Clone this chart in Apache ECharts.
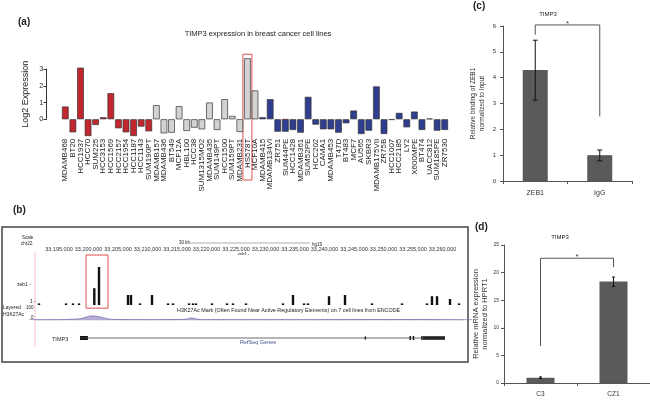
<!DOCTYPE html>
<html><head><meta charset="utf-8">
<script src="https://cdn.jsdelivr.net/npm/echarts@6/dist/echarts.min.js"></script>
<style>html,body{margin:0;padding:0;background:#fff}#c{width:650px;height:404px}</style>
</head><body><div id="c"></div>
<script>
// ---------- Panel (a) data ----------
const basalALines = ['MDAMB468','BT20','HCC1937','HCC70','SUM225','HCC3153','HCC1569','HCC2157','HCC1954','HCC1187','HCC1143','SUM190PT'];
const basalAExpr  = [0.76,-0.78,3.08,-1.0,-0.34,0.12,1.56,-0.54,-0.78,-1.0,-0.44,-0.72];
const basalBLines = ['MDAMB157','MDAMB436','BT549','MCF12A','HBL100','HCC38','SUM1315MO2','MDAMB435','SUM149PT','HCC1500','SUM159PT','MDAMB231','HS578T','MCF10A'];
const basalBExpr  = [0.84,-0.84,-0.8,0.78,-0.7,-0.5,-0.6,1.0,-0.64,1.2,0.2,-0.76,3.64,1.72];
const luminalLines = ['MDAMB415','MDAMB134VI','ZR751','SUM44PE','HCC1428','MDAMB361','SUM52PE','HCC202','CAMA1','MDAMB453','T47D','BT483','MCF7','AU565','SKBR3','MDAMB175VII','ZR75B','HCC1007','HCC2185','LY2','X600MPE','BT474','UACC812','SUM185PE','ZR7530'];
const luminalExpr  = [0.12,1.2,-0.74,-0.74,-0.64,-0.8,1.34,-0.32,-0.6,-0.6,-0.8,-0.24,0.52,-0.88,-0.68,1.96,-0.88,-0.04,0.38,-0.48,0.46,-0.64,0.04,-0.68,-0.64];
const exprTicks = [0,1,2,3];
const highlightLine = 'HS578T';

// ---------- Panel (c) data ----------
const chipCats = ['ZEB1','IgG'];
const chipVals = [4.3,1.0];
const chipErrLow = [3.13,0.78];
const chipErrHigh = [5.45,1.2];
const chipBracket = [0,1,5.66,2.5,6.04];

// ---------- Panel (d) data ----------
const qpcrCats = ['C3','CZ1'];
const qpcrVals = [0.95,18.4];
const qpcrErrLow = [0.8,17.5];
const qpcrErrHigh = [1.1,19.2];
const qpcrBracket = [0,1,6.7,21.0,22.6];

// ---------- Panel (b) data ----------
const genomicTicks = [33195000,33200000,33205000,33210000,33215000,33220000,33225000,33230000,33235000,33240000,33245000,33250000,33255000,33260000];
const zeb1PeakPos = [33200983,33201780,33206695,33207200,33210763,33234660,33240763,33243475,33258220,33259070,33261270,
  33191610,33196186,33197373,33198390,33208729,33213475,33214322,33217034,33217712,33218220,33220932,33223475,33224492,33226695,33232966,33236525,33237203,33248051,33253136,33257373,33262797];
const zeb1PeakHeight = [0.42,0.95,0.25,0.25,0.25,0.25,0.22,0.25,0.22,0.22,0.15,
  0.04,0.04,0.04,0.04,0.04,0.04,0.04,0.04,0.04,0.04,0.04,0.04,0.04,0.04,0.04,0.04,0.04,0.04,0.04,0.04,0.04];
const h3Pos = [33190000,33195000,33197000,33198500,33199500,33200500,33201500,33202500,33203500,33205000,33210000,33215000,33216500,33217500,33218500,33220000,33230000,33240000,33250000,33260000,33265000];
const h3Val = [3,4,8,14,30,45,40,25,10,5,4,5,8,22,8,4,4,4,5,4,3];
const geneStart = 33198560, geneEnd = 33260425;
const exonStarts = [33198560,33246800,33254400,33254950,33256400,33256700];
const exonEnds   = [33199900,33246950,33254600,33255150,33256650,33260425];
const exonHeight = [4,3,4,4,4,3.5];
const peakBox = [33199576,33203305];

const FONT = 'Liberation Sans, Arial, sans-serif';
const cellLines = basalALines.concat(basalBLines, luminalLines);
const exprVals = basalAExpr.concat(basalBExpr, luminalExpr);
const groupColor = i => i < basalALines.length ? '#c1272d' : (i < basalALines.length + basalBLines.length ? '#d3d3d3' : '#2f3e8e');

const chart = echarts.init(document.getElementById('c'), null, {renderer:'canvas'});

function errRender(cap){
  return function(params, api){
    const x = api.value(0);
    const lo = api.coord([x, api.value(1)]), hi = api.coord([x, api.value(2)]);
    const st = {stroke:'#111', lineWidth:1};
    return {type:'group', children:[
      {type:'line', shape:{x1:lo[0],y1:lo[1],x2:hi[0],y2:hi[1]}, style:st},
      {type:'line', shape:{x1:lo[0]-cap,y1:lo[1],x2:lo[0]+cap,y2:lo[1]}, style:st},
      {type:'line', shape:{x1:hi[0]-cap,y1:hi[1],x2:hi[0]+cap,y2:hi[1]}, style:st}
    ]};
  };
}
function bracketRender(params, api){
  const a = api.coord([api.value(0), api.value(2)]);
  const at = api.coord([api.value(0), api.value(4)]);
  const bt = api.coord([api.value(1), api.value(4)]);
  const b = api.coord([api.value(1), api.value(3)]);
  return {type:'group', children:[
    {type:'polyline', shape:{points:[a,at,bt,b]}, style:{stroke:'#555', fill:null, lineWidth:1}},
    {type:'text', style:{text:'*', x:(at[0]+bt[0])/2, y:at[1]+3, align:'center', verticalAlign:'bottom', fontSize:8, fill:'#333', fontFamily:FONT}}
  ]};
}
function peakRender(params, api){
  const p0 = api.coord([api.value(0), 0]), p1 = api.coord([api.value(0), api.value(1)]);
  return {type:'rect', shape:{x:p0[0]-1.2, y:p1[1], width:2.4, height:Math.max(p0[1]-p1[1],1.3)}, style:{fill:'#111'}};
}
function exonRender(params, api){
  const a = api.coord([api.value(0), 0.5]), b = api.coord([api.value(1), 0.5]);
  const h = api.value(2);
  return {type:'rect', shape:{x:a[0], y:a[1]-h/2, width:Math.max(b[0]-a[0],1.5), height:h}, style:{fill:'#111'}};
}

const gridB = {left:29.5, width:442.5};
const gMin = 33190000, gMax = 33265000;

const option = {
  animation:false,
  textStyle:{fontFamily:FONT},
  grid:[
    {left:61.5, top:55.6, width:387, height:82.1},           // 0 panel a
    {left:46.5, top:69, width:1, height:50.3},                 // 1 panel a axis
    {left:503, top:26, width:129, height:155},                 // 2 panel c
    {left:504, top:245, width:146, height:138},                // 3 panel d
    {left:gridB.left, width:gridB.width, top:265, height:40},  // 4 zeb1
    {left:gridB.left, width:gridB.width, top:311, height:9},   // 5 H3K27Ac
    {left:gridB.left, width:gridB.width, top:334, height:8}    // 6 gene
  ],
  xAxis:[
    {gridIndex:0, type:'category', data:cellLines, axisLine:{show:false}, axisTick:{show:false},
     axisLabel:{rotate:90, interval:0, fontSize:8, margin:1, color:'#222'}},
    {gridIndex:1, type:'value', show:false, min:0, max:1},
    {gridIndex:2, type:'category', data:chipCats, axisLine:{lineStyle:{color:'#555'}},
     axisTick:{show:true, length:3, lineStyle:{color:'#555'}}, axisLabel:{fontSize:7, margin:9, color:'#333'}},
    {gridIndex:3, type:'category', data:qpcrCats, axisLine:{lineStyle:{color:'#555'}},
     axisTick:{show:true, length:3, lineStyle:{color:'#555'}}, axisLabel:{fontSize:6.5, margin:8, color:'#333'}},
    {gridIndex:4, type:'value', position:'top', min:gMin, max:gMax, interval:5000,
     axisLine:{show:false}, axisTick:{show:false}, splitLine:{show:false},
     axisLabel:{fontSize:5.5, margin:13, color:'#333', formatter:v => genomicTicks.indexOf(v) < 0 ? '' : v.toLocaleString('en-US')}},
    {gridIndex:5, type:'value', min:gMin, max:gMax, show:false},
    {gridIndex:6, type:'value', min:gMin, max:gMax, show:false}
  ],
  yAxis:[
    {gridIndex:0, type:'value', min:-1.1, max:3.8, show:false},
    {gridIndex:1, type:'value', min:0, max:3, interval:1, axisLine:{show:true, lineStyle:{color:'#333'}},
     axisTick:{show:true, length:3, lineStyle:{color:'#333'}}, splitLine:{show:false},
     axisLabel:{fontSize:7.5, margin:3, color:'#333', customValues:exprTicks},
     name:'Log2 Expression', nameLocation:'middle', nameGap:16, nameTextStyle:{fontSize:9, color:'#222'}},
    {gridIndex:2, type:'value', min:0, max:6, interval:1, axisLine:{show:true, lineStyle:{color:'#555'}},
     axisTick:{show:true, length:3, lineStyle:{color:'#555'}}, splitLine:{show:false},
     axisLabel:{fontSize:6, margin:7, color:'#333'},
     name:'Relative binding of ZEB1\nnormalized to Input', nameLocation:'middle', nameGap:16,
     nameTextStyle:{fontSize:6.5, color:'#333', lineHeight:9}},
    {gridIndex:3, type:'value', min:0, max:25, interval:5, axisLine:{show:true, lineStyle:{color:'#555'}},
     axisTick:{show:true, length:3, lineStyle:{color:'#555'}}, splitLine:{show:false},
     axisLabel:{fontSize:5, margin:5, color:'#333'},
     name:'Relative mRNA expression\nnormalized to HPRT1', nameLocation:'middle', nameGap:10,
     nameTextStyle:{fontSize:7.5, color:'#333', lineHeight:9}},
    {gridIndex:4, type:'value', min:0, max:1, show:false},
    {gridIndex:5, type:'value', min:0, max:100, show:false},
    {gridIndex:6, type:'value', min:0, max:1, show:false}
  ],
  series:[
    {type:'bar', xAxisIndex:0, yAxisIndex:0, barCategoryGap:'12%',
     data:exprVals.map((v,i)=>({value:v, itemStyle:{color:groupColor(i), borderColor:'#333', borderWidth:0.7}}))},
    {type:'bar', xAxisIndex:2, yAxisIndex:2, barWidth:25, data:chipVals, itemStyle:{color:'#5a5a5a'}},
    {type:'custom', xAxisIndex:2, yAxisIndex:2, renderItem:errRender(2.5), encode:{x:0, y:[1,2]},
     data:chipCats.map((c,i)=>[i, chipErrLow[i], chipErrHigh[i]]), z:5},
    {type:'custom', xAxisIndex:2, yAxisIndex:2, renderItem:bracketRender, clip:false, encode:{x:[0,1], y:[2,3,4]},
     data:[chipBracket], z:5},
    {type:'bar', xAxisIndex:3, yAxisIndex:3, barWidth:28, data:qpcrVals, itemStyle:{color:'#5a5a5a'}},
    {type:'custom', xAxisIndex:3, yAxisIndex:3, renderItem:errRender(1.5), encode:{x:0, y:[1,2]},
     data:qpcrCats.map((c,i)=>[i, qpcrErrLow[i], qpcrErrHigh[i]]), z:5},
    {type:'custom', xAxisIndex:3, yAxisIndex:3, renderItem:bracketRender, clip:false, encode:{x:[0,1], y:[2,3,4]},
     data:[qpcrBracket], z:5},
    {type:'custom', xAxisIndex:4, yAxisIndex:4, renderItem:peakRender, clip:false, encode:{x:0, y:1},
     data:zeb1PeakPos.map((p,i)=>[p, zeb1PeakHeight[i]])},
    {type:'line', xAxisIndex:5, yAxisIndex:5, symbol:'none', smooth:true, lineStyle:{color:'#7d6ab0', width:0.8},
     areaStyle:{color:'#9b8cc8', opacity:0.7}, data:h3Pos.map((p,i)=>[p,h3Val[i]])},
    {type:'line', xAxisIndex:6, yAxisIndex:6, symbol:'none', lineStyle:{color:'#444', width:0.8},
     data:[[geneStart,0.5],[geneEnd,0.5]]},
    {type:'custom', xAxisIndex:6, yAxisIndex:6, renderItem:exonRender, encode:{x:[0,1]},
     data:exonStarts.map((s,i)=>[s, exonEnds[i], exonHeight[i]])}
  ]
};
chart.setOption(option);

// annotation overlays computed from the scales
const hi = cellLines.indexOf(highlightLine);
const hp = chart.convertToPixel({xAxisIndex:0, yAxisIndex:0}, [hi, 3.88]);
const s44 = chart.convertToPixel({xAxisIndex:0, yAxisIndex:0}, [cellLines.indexOf('SUM44PE'), 0]);
const pb0 = chart.convertToPixel({xAxisIndex:4, yAxisIndex:4}, [peakBox[0], 1.25]);
const pb1 = chart.convertToPixel({xAxisIndex:4, yAxisIndex:4}, [peakBox[1], -0.08]);
const T = (text, x, y, size, extra) => Object.assign({type:'text', style:Object.assign({text, x, y, fontSize:size, fill:'#222', fontFamily:FONT}, extra||{})});

chart.setOption({graphic:[
  {type:'rect', shape:{x:hp[0]-4.5, y:hp[1], width:9, height:180-hp[1]}, style:{fill:null, stroke:'#d9534f', lineWidth:1}},
  {type:'line', shape:{x1:s44[0]-3.5, y1:s44[1], x2:s44[0]+3.5, y2:s44[1]}, style:{stroke:'#e06060', lineWidth:1}},
  T('(a)', 18, 22, 10, {fontWeight:'bold', verticalAlign:'middle'}),
  T('TIMP3 expression in breast cancer cell lines', 258, 34, 7.5, {align:'center', verticalAlign:'middle'}),
  T('(b)', 13, 210, 10, {fontWeight:'bold', verticalAlign:'middle'}),
  T('(c)', 473, 6, 10, {fontWeight:'bold', verticalAlign:'middle'}),
  T('TIMP3', 548, 14, 6, {align:'center', verticalAlign:'middle'}),
  T('(d)', 475, 227, 10, {fontWeight:'bold', verticalAlign:'middle'}),
  T('TIMP3', 560, 237, 6, {align:'center', verticalAlign:'middle'}),
  {type:'rect', shape:{x:2, y:227, width:466, height:135}, style:{fill:null, stroke:'#444', lineWidth:1.5}},
  {type:'line', shape:{x1:35, y1:252, x2:35, y2:347}, style:{stroke:'#f0b4b4', lineWidth:0.8}},
  T('Scale', 22, 238, 4.5, {verticalAlign:'middle'}),
  T('chr22:', 21, 244, 4.5, {verticalAlign:'middle'}),
  T('30 kb', 179, 243, 4.5, {verticalAlign:'middle'}),
  {type:'line', shape:{x1:190, y1:243, x2:310, y2:243}, style:{stroke:'#777', lineWidth:0.6}},
  T('hg19', 312, 245, 4.5, {verticalAlign:'middle'}),
  T('zeb1 -', 238, 254, 4, {verticalAlign:'middle'}),
  T('zeb1 -', 17, 285, 5, {verticalAlign:'middle'}),
  T('1 -', 30, 302, 5, {verticalAlign:'middle'}),
  T('Layered', 3, 308, 5, {verticalAlign:'middle'}),
  T('H3K27Ac', 3, 315, 5, {verticalAlign:'middle'}),
  T('100', 26, 308, 4.5, {verticalAlign:'middle'}),
  T('0', 31, 318, 4.5, {verticalAlign:'middle'}),
  T('H3K27Ac Mark (Often Found Near Active Regulatory Elements) on 7 cell lines from ENCODE', 177, 311, 5.4, {verticalAlign:'middle'}),
  {type:'line', shape:{x1:36, y1:320, x2:465, y2:320}, style:{stroke:'#999', lineWidth:0.6, lineDash:[2,1]}},
  T('TIMP3', 52, 339, 5.5, {verticalAlign:'middle'}),
  T('RefSeq Genes', 240, 342, 5.5, {verticalAlign:'middle', fill:'#3d4f8a'}),
  {type:'rect', shape:{x:pb0[0], y:pb0[1], width:pb1[0]-pb0[0], height:pb1[1]-pb0[1]}, style:{fill:null, stroke:'#d9534f', lineWidth:1}}
]});
</script></body></html>
